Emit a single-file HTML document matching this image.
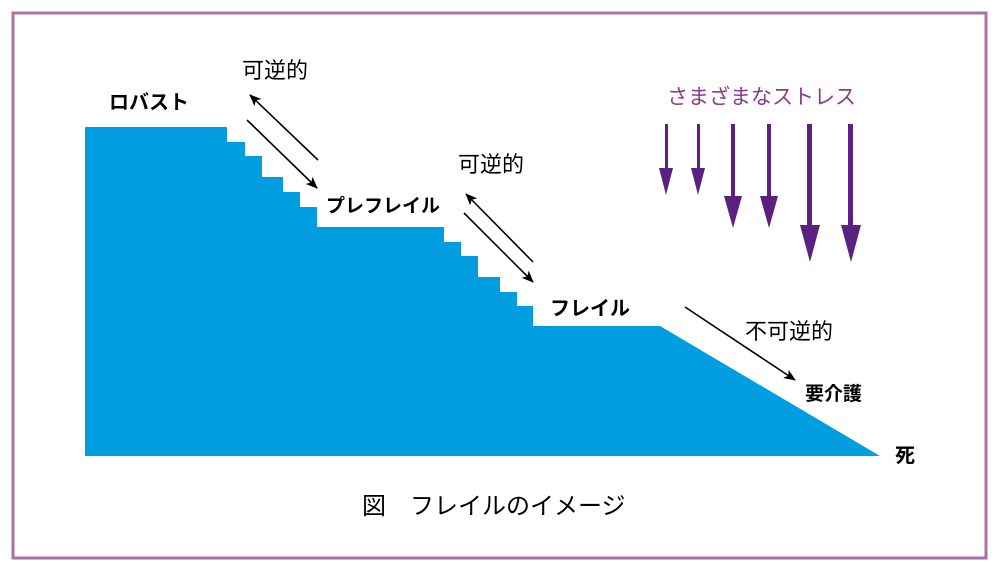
<!DOCTYPE html>
<html><head><meta charset="utf-8"><style>
html,body{margin:0;padding:0;background:#fff;}
svg{display:block;}
text{font-family:"Liberation Sans","Noto Sans CJK JP",sans-serif;}
</style></head><body>
<svg width="1000" height="572" viewBox="0 0 1000 572" xmlns="http://www.w3.org/2000/svg">
<defs>
<marker id="ah" markerWidth="12" markerHeight="10" refX="11" refY="5" orient="auto" markerUnits="userSpaceOnUse">
<path d="M0,0 L12,5 L0,10 L3,5 Z" fill="#000"/>
</marker>
</defs>
<rect x="13" y="13" width="973" height="545" fill="none" stroke="#a872a6" stroke-width="3"/>
<path fill="#009ee0" d="M85,127 L227,127 L227,142 L245,142 L245,156 L262,156 L262,177 L283,177 L283,192 L300,192 L300,207 L317,207 L317,227 L444,227 L444,242 L461,242 L461,256 L478,256 L478,277 L500,277 L500,292 L517,292 L517,306 L533,306 L533,326 L660,326 L880,456 L85,456 Z"/>
<g stroke="#000" stroke-width="1.6" fill="none">
<line x1="318" y1="160" x2="250" y2="95" marker-end="url(#ah)"/>
<line x1="247" y1="120" x2="317" y2="188" marker-end="url(#ah)"/>
<line x1="533" y1="262" x2="466" y2="194" marker-end="url(#ah)"/>
<line x1="464" y1="213" x2="533" y2="282" marker-end="url(#ah)"/>
<line x1="685" y1="307" x2="795" y2="380" marker-end="url(#ah)"/>
</g>
<g fill="#5a2180">
<rect x="665" y="124" width="3" height="48"/><path d="M659,168 L673,168 L666,195 Z"/>
<rect x="697" y="124" width="3" height="48"/><path d="M691,168 L705,168 L698,195 Z"/>
<rect x="731" y="124" width="4" height="75"/><path d="M724,196 L742,196 L733,228 Z"/>
<rect x="767" y="124" width="4" height="75"/><path d="M760,196 L778,196 L769,228 Z"/>
<rect x="807" y="124" width="5" height="104"/><path d="M800,225 L820,225 L810,262 Z"/>
<rect x="848" y="124" width="5" height="104"/><path d="M841,225 L861,225 L851,262 Z"/>
</g>
<text x="667" y="104" font-size="21" fill="#8a3a8c">さまざまなストレス</text>
<text x="242" y="78" font-size="22" fill="#000">可逆的</text>
<text x="458" y="172" font-size="22" fill="#000">可逆的</text>
<text x="745" y="339" font-size="22" fill="#000">不可逆的</text>
<text x="109" y="109" font-size="20" font-weight="bold" fill="#000">ロバスト</text>
<text x="326" y="212" font-size="19" font-weight="bold" fill="#000">プレフレイル</text>
<text x="550" y="315" font-size="20" font-weight="bold" fill="#000">フレイル</text>
<text x="805" y="400" font-size="19" font-weight="bold" fill="#000">要介護</text>
<text x="895" y="462" font-size="20" font-weight="bold" fill="#000">死</text>
<text x="362" y="514" font-size="24" fill="#000">図　フレイルのイメージ</text>
</svg>
</body></html>
